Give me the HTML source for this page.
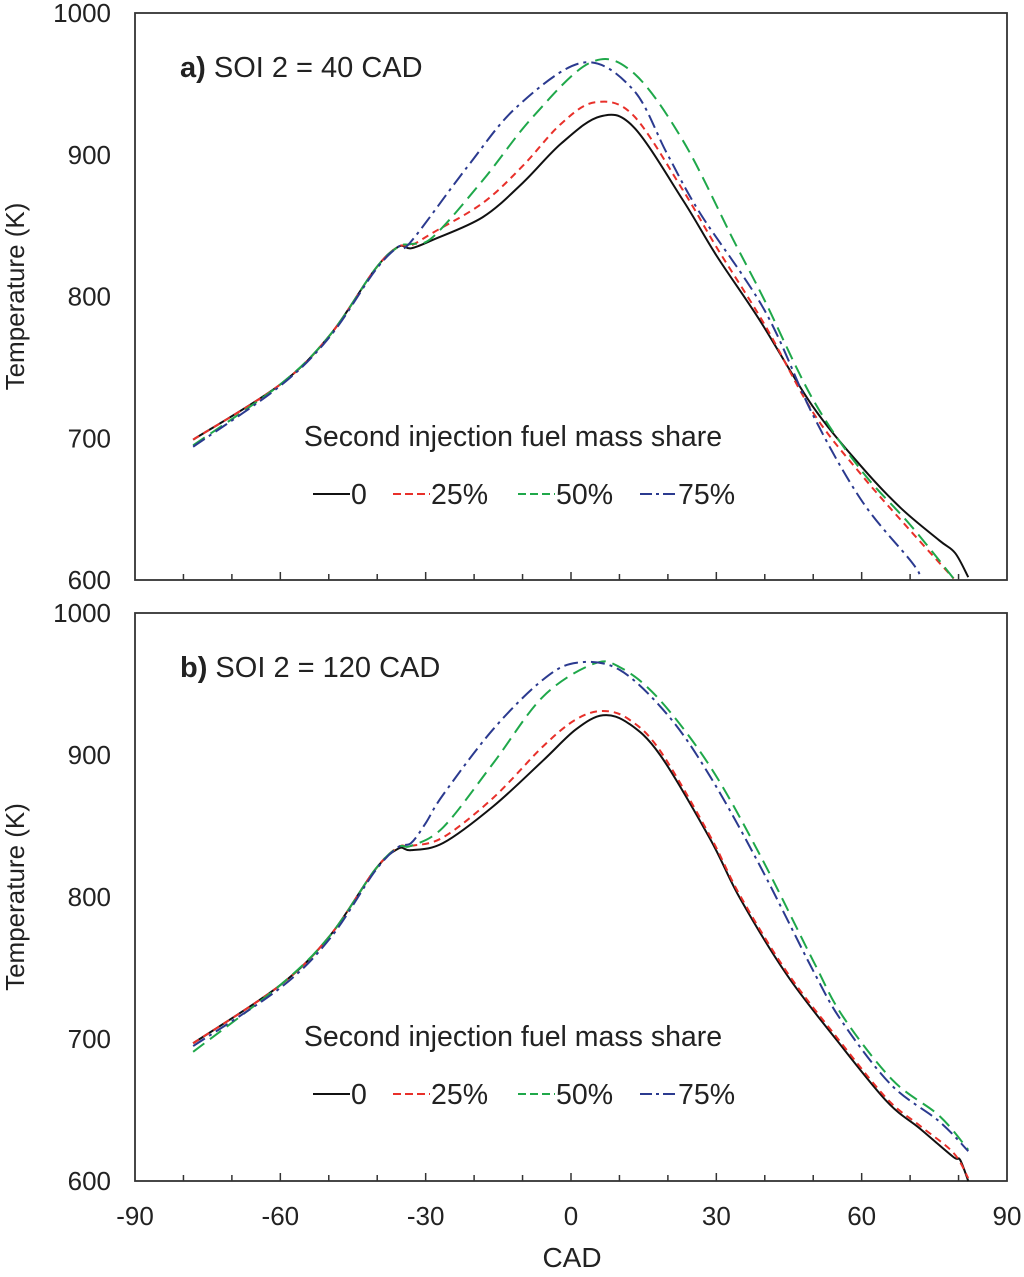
<!DOCTYPE html>
<html><head><meta charset="utf-8"><style>
body{margin:0;background:#fff;}
svg text{font-family:"Liberation Sans",Arial,sans-serif;fill:#222;}
</style></head><body>
<svg id="chart" width="1024" height="1272" xmlns="http://www.w3.org/2000/svg"></svg>
<script>
// ---- data ----
const xTicks = [-90,-60,-30,0,30,60,90];
const yTicks = [600,700,800,900,1000];
const seriesNames = ["0","25%","50%","75%"];
// panel a
const aX0 = [-78,-60,-49.7,-40.5,-35.7,-33,-28.5,-18.2,-10,-2,6,12.8,23.1,30,39,49.8,59.7,68,76,79.3,82];
const aY0 = [699,738,773,819,835,834,840,856,880,908,927,920,868,829,783,723,681,651,628,619,602];
const aX1 = [-78,-60,-49.7,-40.5,-35.7,-33,-28.5,-18.2,-10,-2,5,12.8,23.1,30,40,50,60,70,79];
const aY1 = [699,738,773,819,835,836,845,866,892,922,937,928,875,835,780,718,674,635,601];
const aX2 = [-78,-60,-49.7,-40.5,-35.7,-33,-28.5,-18.2,-7.8,4,12.8,23.1,33.5,40,50,60,70,79];
const aY2 = [695,738,773,819,835,837,842,882,927,965,958,910,840,797,727,677,639,601];
const aX3 = [-78,-60,-49.7,-40.5,-35.7,-33.2,-21.5,-11.1,2.5,12.8,19.8,26.6,40,50,60,70,72];
const aY3 = [694,737,772,818,835,838,891,934,965,946,901,859,790,716,656,614,604];
// panel b
const bX0 = [-78,-60,-49.7,-40.5,-35.7,-33,-26.4,-16,-5.8,1,6.6,12,18.4,28.7,34.9,44.6,54.9,65.2,72,78.9,80.3,82];
const bY0 = [697,738,773,819,834,833,838,864,896,918,928,922,900,841,799,745,699,656,637,617,615,600];
const bX1 = [-78,-60,-49.7,-40.5,-35.7,-33,-26.4,-16,-5.8,1,6.6,12,18.4,28.7,34.9,44.6,54.9,65.2,72,78.9,82];
const bY1 = [697,738,773,819,835,836,842,870,906,925,931,925,903,843,801,747,701,658,639,620,602];
const bX2 = [-78,-60,-49.7,-40.5,-35.7,-33,-26.4,-16.1,-5.8,4.5,10,18,28.7,39.1,50,56.1,66.4,76,82];
const bY2 = [691,738,773,819,835,836,849,894,941,964,962,940,892,829,755,716,671,646,622];
const bX3 = [-78,-60,-49.7,-40.5,-35.7,-33,-30,-26.4,-16.1,-5.8,1.2,10,20,28.7,39,50,56,66,76,82];
const bY3 = [695,736,771,818,835,838,852,872,918,953,965,960,928,885,822,748,712,668,642,621];

const colors=["#111","#e8302a","#1fa84a","#2b3a8f"];
const dashes=["","7,5","14,7","14,5,3,5"];
const NS="http://www.w3.org/2000/svg";
const svg=document.getElementById('chart');
function mk(tag,attrs,parent){const e=document.createElementNS(NS,tag);for(const k in attrs)e.setAttribute(k,attrs[k]);(parent||svg).appendChild(e);return e;}
const X0=135,X1=1007;
function sx(v){return X0+(v+90)/180*(X1-X0);}
function path(pts){let d="M"+pts[0][0]+","+pts[0][1];
 for(let i=0;i<pts.length-1;i++){const p0=pts[Math.max(0,i-1)],p1=pts[i],p2=pts[i+1],p3=pts[Math.min(pts.length-1,i+2)];
  const c1=[p1[0]+(p2[0]-p0[0])/6,p1[1]+(p2[1]-p0[1])/6],c2=[p2[0]-(p3[0]-p1[0])/6,p2[1]-(p3[1]-p1[1])/6];
  d+=" C"+c1.join(",")+" "+c2.join(",")+" "+p2.join(",");}
 return d;}
function panel(id,top,bottom,title,bold,xs,ys,showX){
 const g=mk('g',{});
 
 
 const sy=v=>bottom-(v-600)/400*(bottom-top);
 const fr=mk('rect',{x:X0,y:top,width:X1-X0,height:bottom-top,fill:'none',stroke:'#333','stroke-width':1.8},g);
 
 
 for(let v=-80;v<90;v+=10){const maj=v%30===0;const t=mk('line',{x1:sx(v),x2:sx(v),y1:bottom,y2:bottom-(maj?8:6),stroke:'#333','stroke-width':1.5},g);
  
  }
 yTicks.forEach(v=>{const t=mk('text',{x:111,y:sy(v)+9,'text-anchor':'end','font-size':26},g);t.textContent=v;
  
  });
 if(showX)xTicks.forEach(v=>{const t=mk('text',{x:sx(v),y:bottom+44,'text-anchor':'middle','font-size':26},g);t.textContent=v;
  
  });
 const yt=mk('text',{transform:`translate(24,${(top+bottom)/2}) rotate(-90)`,'text-anchor':'middle','font-size':26},g);yt.textContent="Temperature (K)";
 
 
 const tt=mk('text',{x:180,y:top+64,'font-size':29},g);
 
 
 const tb=mk('tspan',{'font-weight':'bold'},tt);tb.textContent=bold;const tr=mk('tspan',{},tt);tr.textContent=title;
 for(let s=0;s<4;s++){const pts=xs[s].map((x,i)=>[sx(x),sy(ys[s][i])]);
  const p=mk('path',{d:path(pts),fill:'none',stroke:colors[s],'stroke-width':2,'stroke-dasharray':dashes[s]},g);
  
  }
 const lt=mk('text',{x:513,y:top+433,'text-anchor':'middle','font-size':28.5},g);lt.textContent="Second injection fuel mass share";
 
 
 const lx=[313,393,518,640];
 for(let s=0;s<4;s++){const le=mk('g',{},g);
  
  
  mk('line',{x1:lx[s],x2:lx[s]+37,y1:top+481,y2:top+481,stroke:colors[s],'stroke-width':2,'stroke-dasharray':s===3?"12,4,3,4":(s===0?"":"8,4")},le);
  const t=mk('text',{x:lx[s]+38,y:top+491,'font-size':28.5},le);t.textContent=seriesNames[s];}
}
panel('panel-a',13,580,' SOI 2 = 40 CAD','a)',[aX0,aX1,aX2,aX3],[aY0,aY1,aY2,aY3],false);
panel('panel-b',613,1181,' SOI 2 = 120 CAD','b)',[bX0,bX1,bX2,bX3],[bY0,bY1,bY2,bY3],true);
const xt=mk('text',{x:572,y:1267,'text-anchor':'middle','font-size':28});xt.textContent="CAD";


</script>
</body></html>
